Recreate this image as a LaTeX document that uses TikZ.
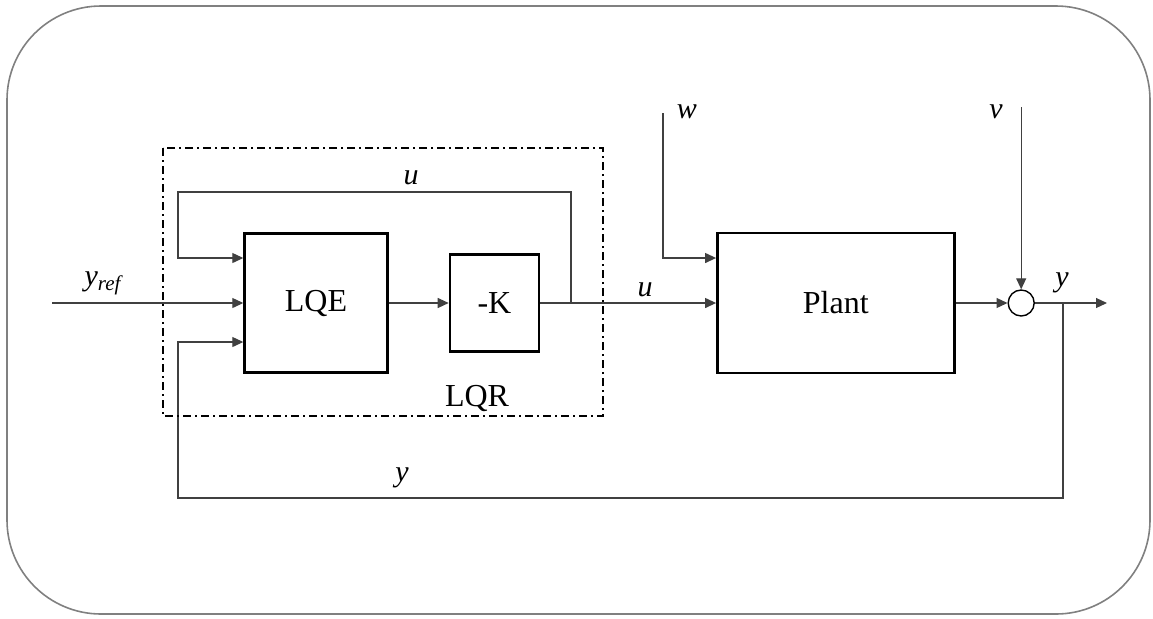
\documentclass[tikz,border=0pt]{standalone}
\usepackage{fontspec}
\setmainfont{Liberation Serif}
\usetikzlibrary{arrows.meta, positioning, calc}

\begin{document}
\begin{tikzpicture}[
  x=0.5pt, y=-0.5pt,
  node distance=30pt,
  box/.style={rectangle, draw=black, line width=1.2pt, fill=white, inner sep=0pt,
              font=\fontsize{16}{18}\selectfont},
  sumnode/.style={circle, draw=black, line width=0.7pt, minimum size=13pt, inner sep=0pt},
  arr/.style={-{Triangle[length=5.5pt, width=5pt]}, draw=black!75, line width=0.6pt},
  lbl/.style={font=\fontsize{15}{17}\selectfont\itshape, inner sep=1pt},
  frame/.style={draw=black, line width=1pt, dash pattern=on 4pt off 2pt on 1pt off 2pt}
]
\useasboundingbox (0,0) rectangle (1153,618);
\draw[draw=black!50, line width=0.8pt, rounded corners=47pt] (7,6) rectangle (1150,614);

\node[box, minimum width=71.5pt, minimum height=69.5pt] (lqe) at (316,303) {LQE};
\node[box, minimum width=44.5pt, minimum height=48.5pt, right=30pt of lqe] (gain) {-K};
\node[box, minimum width=118.5pt, minimum height=70pt, right=88pt of gain] (plant) {Plant};
\node[sumnode, right=26pt of plant] (sum) {};

\coordinate (yin) at (52,303);
\coordinate (yout) at (1107,303);
\coordinate (ubr) at (571,303);
\coordinate (ucorner) at (178,192);
\coordinate (ybr) at (1063,303);
\coordinate (ycorner) at (178,498);
\coordinate (win) at (663,113);
\coordinate (vin) at (1020,107);

% signal path
\draw[arr] (yin) -- (lqe.west);
\draw[arr] (lqe) -- (gain);
\draw[arr] (gain) -- (plant);
\draw[arr] (plant) -- (sum);
\draw[arr] (sum) -- (yout);
\draw[arr] (win) |- ([yshift=22.5pt]plant.west);
\draw[arr] (sum.north |- vin) -- (sum.north);

% loops back into the estimator
\draw[arr] (ubr) |- (ucorner) |- ([yshift=22.5pt]lqe.west);
\draw[arr] (ybr) |- (ycorner) |- ([yshift=-19.5pt]lqe.west);

\draw[frame] (163,148) rectangle (603,416);

\node[lbl] (lyref) at (103,283) {y\textsubscript{ref}};
\node[lbl] (lu1) at (411,178) {u};
\node[lbl] (lu2) at (645,290) {u};
\node[lbl] (lw) at (687,112) {w};
\node[lbl] (lv) at (996,112) {v};
\node[lbl] (ly1) at (1062,283) {y};
\node[lbl] (ly2) at (402,478) {y};
\node[font=\fontsize{16}{18}\selectfont] (llqr) at (477,398) {LQR};
\end{tikzpicture}
\end{document}
